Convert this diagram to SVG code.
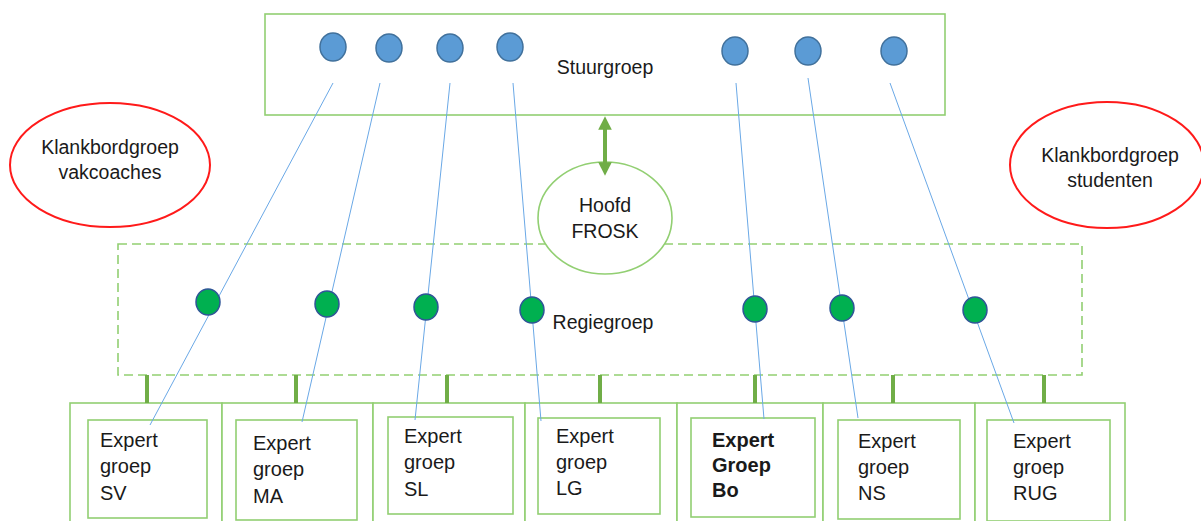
<svg xmlns="http://www.w3.org/2000/svg" width="1201" height="521" viewBox="0 0 1201 521">
  <defs>
    <marker id="arrowG" viewBox="0 0 10 10" refX="5" refY="5" markerWidth="3.4" markerHeight="3.4" orient="auto-start-reverse" markerUnits="strokeWidth">
      <path d="M0,0 L10,5 L0,10 z" fill="#70ad47"/>
    </marker>
  </defs>
  <style>
    text { font-family: "Liberation Sans", Arial, sans-serif; fill: #1a1a1a; }
    .lbl { font-size: 19.5px; }
    .exp { font-size: 20px; }
    .box { fill: #ffffff; stroke: #92cf72; stroke-width: 1.6; }
    .dash { fill: none; stroke: #92cf72; stroke-width: 1.6; stroke-dasharray: 9 5; }
    .red { fill: #ffffff; stroke: #ff1a1a; stroke-width: 2; }
    .blue { fill: #5b9bd5; stroke: #41719c; stroke-width: 1.5; }
    .grn { fill: #00b050; stroke: #2f5597; stroke-width: 1.5; }
    .link { stroke: #6aa8e6; stroke-width: 1; fill: none; }
    .tie { stroke: #70ad47; stroke-width: 4; }
  </style>

  <rect width="1201" height="521" fill="#ffffff"/>

  <!-- Stuurgroep -->
  <g id="stuurgroep">
    <rect class="box" x="265" y="14" width="680" height="101"/>
    <text class="lbl" x="605" y="74" text-anchor="middle">Stuurgroep</text>
  </g>

  <!-- Regiegroep -->
  <g id="regiegroep">
    <rect class="dash" x="118" y="244" width="964" height="131"/>
    <text class="lbl" x="603" y="329" text-anchor="middle">Regiegroep</text>
  </g>

  <!-- Hoofd FROSK -->
  <g id="hoofd-frosk">
    <ellipse class="box" cx="605" cy="218" rx="67" ry="56"/>
    <text class="lbl" x="605" y="212" text-anchor="middle">Hoofd</text>
    <text class="lbl" x="605" y="238" text-anchor="middle">FROSK</text>
  </g>

  <!-- Klankbordgroepen -->
  <g id="klankbord-vakcoaches">
    <ellipse class="red" cx="110" cy="165" rx="100" ry="62"/>
    <text class="lbl" x="110" y="154" text-anchor="middle">Klankbordgroep</text>
    <text class="lbl" x="110" y="179" text-anchor="middle">vakcoaches</text>
  </g>
  <g id="klankbord-studenten">
    <ellipse class="red" cx="1107" cy="165" rx="97" ry="63"/>
    <text class="lbl" x="1110" y="162" text-anchor="middle">Klankbordgroep</text>
    <text class="lbl" x="1110" y="187" text-anchor="middle">studenten</text>
  </g>

  <!-- Expertgroepen: outer cells -->
  <g id="expert-cells">
    <rect class="box" x="70" y="403" width="152" height="130"/>
    <rect class="box" x="222" y="403" width="151" height="130"/>
    <rect class="box" x="373" y="403" width="152" height="130"/>
    <rect class="box" x="525" y="403" width="152" height="130"/>
    <rect class="box" x="677" y="403" width="146" height="130"/>
    <rect class="box" x="823" y="403" width="152" height="130"/>
    <rect class="box" x="975" y="403" width="150" height="130"/>
  </g>

  <g id="expert-sv">
    <rect class="box" x="88" y="420" width="119" height="98"/>
    <text class="exp" x="100" y="447">Expert</text>
    <text class="exp" x="100" y="473">groep</text>
    <text class="exp" x="100" y="500">SV</text>
  </g>
  <g id="expert-ma">
    <rect class="box" x="236" y="420" width="121" height="100"/>
    <text class="exp" x="253" y="450">Expert</text>
    <text class="exp" x="253" y="476">groep</text>
    <text class="exp" x="253" y="503">MA</text>
  </g>
  <g id="expert-sl">
    <rect class="box" x="388" y="417" width="125" height="97"/>
    <text class="exp" x="404" y="443">Expert</text>
    <text class="exp" x="404" y="469">groep</text>
    <text class="exp" x="404" y="496">SL</text>
  </g>
  <g id="expert-lg">
    <rect class="box" x="538" y="418" width="122" height="96"/>
    <text class="exp" x="556" y="443">Expert</text>
    <text class="exp" x="556" y="469">groep</text>
    <text class="exp" x="556" y="495">LG</text>
  </g>
  <g id="expert-bo">
    <rect class="box" x="691" y="418" width="124" height="99"/>
    <text class="exp" x="712" y="447" font-weight="bold">Expert</text>
    <text class="exp" x="712" y="472" font-weight="bold">Groep</text>
    <text class="exp" x="712" y="497" font-weight="bold">Bo</text>
  </g>
  <g id="expert-ns">
    <rect class="box" x="838" y="420" width="122" height="99"/>
    <text class="exp" x="858" y="448">Expert</text>
    <text class="exp" x="858" y="474">groep</text>
    <text class="exp" x="858" y="500">NS</text>
  </g>
  <g id="expert-rug">
    <rect class="box" x="987" y="420" width="123" height="101"/>
    <text class="exp" x="1013" y="448">Expert</text>
    <text class="exp" x="1013" y="474">groep</text>
    <text class="exp" x="1013" y="500">RUG</text>
  </g>

  <!-- Connectors -->
  <g id="connectors">
    <line class="tie" x1="605" y1="123" x2="605" y2="169" marker-start="url(#arrowG)" marker-end="url(#arrowG)"/>
    <line class="tie" x1="147" y1="375" x2="147" y2="403"/>
    <line class="tie" x1="296" y1="375" x2="296" y2="403"/>
    <line class="tie" x1="447" y1="375" x2="447" y2="403"/>
    <line class="tie" x1="600" y1="375" x2="600" y2="403"/>
    <line class="tie" x1="755" y1="375" x2="755" y2="403"/>
    <line class="tie" x1="893" y1="375" x2="893" y2="403"/>
    <line class="tie" x1="1044" y1="375" x2="1044" y2="403"/>

    <line class="link" x1="333" y1="83" x2="150" y2="425"/>
    <line class="link" x1="380" y1="83" x2="302" y2="422"/>
    <line class="link" x1="450" y1="83" x2="415" y2="420"/>
    <line class="link" x1="513" y1="83" x2="541" y2="421"/>
    <line class="link" x1="736" y1="83" x2="764" y2="419"/>
    <line class="link" x1="808" y1="78" x2="858" y2="418"/>
    <line class="link" x1="890" y1="83" x2="1014" y2="423"/>
  </g>

  <!-- Members in Stuurgroep -->
  <g id="stuurgroep-members">
    <ellipse class="blue" cx="333" cy="47" rx="13" ry="14"/>
    <ellipse class="blue" cx="389" cy="48" rx="13" ry="14"/>
    <ellipse class="blue" cx="450" cy="48" rx="13" ry="14"/>
    <ellipse class="blue" cx="510" cy="47" rx="13" ry="14"/>
    <ellipse class="blue" cx="735" cy="51" rx="13" ry="14"/>
    <ellipse class="blue" cx="808" cy="51" rx="13" ry="14"/>
    <ellipse class="blue" cx="894" cy="51" rx="13" ry="14"/>
  </g>

  <!-- Members in Regiegroep -->
  <g id="regiegroep-members">
    <ellipse class="grn" cx="208" cy="302" rx="12" ry="13"/>
    <ellipse class="grn" cx="327" cy="304" rx="12" ry="13"/>
    <ellipse class="grn" cx="426" cy="307" rx="12" ry="13"/>
    <ellipse class="grn" cx="532" cy="310" rx="12" ry="13"/>
    <ellipse class="grn" cx="755" cy="309" rx="12" ry="13"/>
    <ellipse class="grn" cx="842" cy="308" rx="12" ry="13"/>
    <ellipse class="grn" cx="975" cy="310" rx="12" ry="13"/>
  </g>
</svg>
